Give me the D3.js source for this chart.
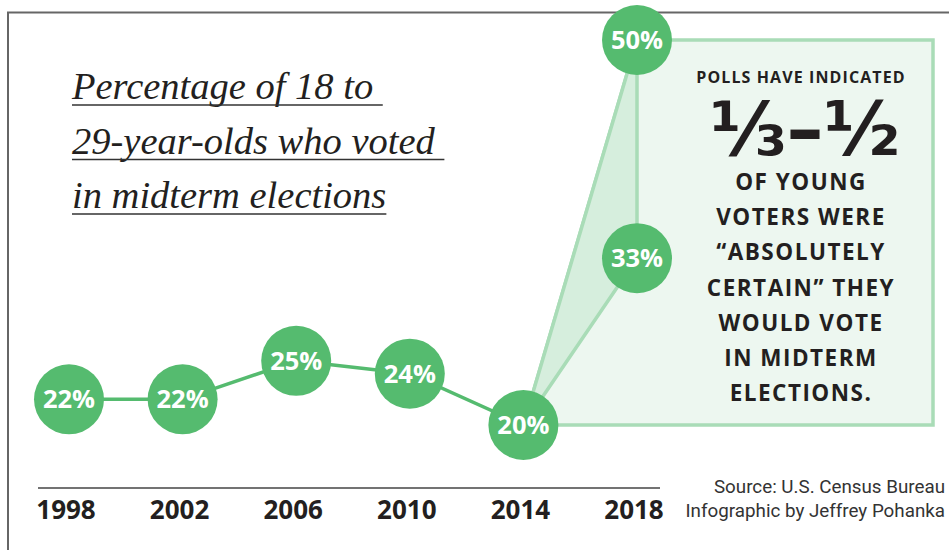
<!DOCTYPE html>
<html>
<head>
<meta charset="utf-8">
<script src="https://cdnjs.cloudflare.com/ajax/libs/d3/7.8.5/d3.min.js"></script>
<style>
  body { margin: 0; background: #fff; }
</style>
</head>
<body>
<script>
var years = [1998, 2002, 2006, 2010, 2014];
var turnout = [22, 22, 25, 24, 20];
var pollYear = 2018;
var pollRange = [33, 50];
var yearTicks = [1998, 2002, 2006, 2010, 2014, 2018];
var titleLines = ["Percentage of 18 to ", "29-year-olds who voted ", "in midterm elections"];
var noteLines = ["OF YOUNG", "VOTERS WERE", "\u201CABSOLUTELY", "CERTAIN\u201D THEY", "WOULD VOTE", "IN MIDTERM", "ELECTIONS."];
var sourceLines = ["Source: U.S. Census Bureau", "Infographic by Jeffrey Pohanka"];

var W = 949, H = 550;
var green = "#55bb6f", pale = "#a9dcb7", dark = "#231f20";
var sans = "'Open Sans', sans-serif";

var svg = d3.select("body").append("svg")
    .attr("width", W)
    .attr("height", H);

var x = d3.scaleLinear().domain([1998, 2018]).range([69, 637]);
var y = d3.scaleLinear().domain([20, 50]).range([425, 40]);

// frame (only top and left edges are in view)
svg.append("path")
    .attr("d", "M8," + H + "V12.5H" + W)
    .attr("fill", "none")
    .attr("stroke", "#666")
    .attr("stroke-width", 2);

// title, underlined
var title = svg.append("g");
titleLines.forEach(function(t, i) {
    var base = 99 + i * 54.5;
    var tx = title.append("text")
        .attr("x", 72)
        .attr("y", base)
        .attr("font-family", "'Liberation Serif', serif")
        .attr("font-style", "italic")
        .attr("font-size", 38.5)
        .attr("fill", dark)
        .style("white-space", "pre")
        .text(t);
    var w = tx.node().getComputedTextLength();
    title.append("line")
        .attr("x1", 72).attr("x2", 72 + w)
        .attr("y1", base + 6).attr("y2", base + 6)
        .attr("stroke", "#333")
        .attr("stroke-width", 1.5);
});

// callout box and wedge
var last = years.length - 1;
var p0 = [x(years[last]), y(turnout[last])];
var pHi = [x(pollYear), y(pollRange[1])];
var pLo = [x(pollYear), y(pollRange[0])];
var boxRight = 933;

svg.append("path")
    .attr("d", "M" + p0 + "L" + pHi + "H" + boxRight + "V" + p0[1] + "Z")
    .attr("fill", "#edf7f0")
    .attr("stroke", pale)
    .attr("stroke-width", 3.5)
    .attr("stroke-linejoin", "miter");

svg.append("path")
    .attr("d", "M" + p0 + "L" + pHi + "L" + pLo + "Z")
    .attr("fill", "#d6eedd")
    .attr("stroke", pale)
    .attr("stroke-width", 3.5);

// box text
var cx = 801;
svg.append("text")
    .attr("x", cx).attr("y", 83)
    .attr("text-anchor", "middle")
    .attr("font-family", sans)
    .attr("font-weight", 700)
    .attr("font-size", 16)
    .attr("letter-spacing", 1.1)
    .attr("fill", dark)
    .text("POLLS HAVE INDICATED");

svg.append("text")
    .attr("x", 805).attr("y", 155)
    .attr("text-anchor", "middle")
    .attr("font-family", "'DejaVu Sans', sans-serif")
    .attr("font-weight", 700)
    .attr("font-size", 74)
    .attr("fill", dark)
    .text("\u2153\u2013\u00BD");

svg.append("g").selectAll("text")
    .data(noteLines)
    .join("text")
    .attr("x", cx)
    .attr("y", function(d, i) { return 190 + i * 35.2; })
    .attr("text-anchor", "middle")
    .attr("font-family", sans)
    .attr("font-weight", 700)
    .attr("font-size", 22.5)
    .attr("letter-spacing", 1.5)
    .attr("fill", dark)
    .text(function(d) { return d; });

// trend line
var pts = years.map(function(yr, i) { return [x(yr), y(turnout[i])]; });
svg.append("path")
    .attr("d", d3.line()(pts))
    .attr("fill", "none")
    .attr("stroke", green)
    .attr("stroke-width", 3.5);

// dots
var dots = pts.map(function(p, i) { return { p: p, v: turnout[i] }; });
dots.push({ p: pHi, v: pollRange[1] });
dots.push({ p: pLo, v: pollRange[0] });

var g = svg.append("g").selectAll("g")
    .data(dots)
    .join("g")
    .attr("transform", function(d) { return "translate(" + d.p + ")"; });
g.append("circle").attr("r", 35).attr("fill", green);
g.append("text")
    .attr("y", 9)
    .attr("text-anchor", "middle")
    .attr("font-family", sans)
    .attr("font-weight", 700)
    .attr("font-size", 25.5)
    .attr("fill", "#fff")
    .text(function(d) { return d.v + "%"; });

// x axis
var axis = svg.append("g").attr("transform", "translate(0,488)");
axis.append("line")
    .attr("x1", 38).attr("x2", 660)
    .attr("stroke", "#444")
    .attr("stroke-width", 1.5);
axis.selectAll("text")
    .data(yearTicks)
    .join("text")
    .attr("x", function(d) { return x(d) - 3; })
    .attr("y", 31)
    .attr("text-anchor", "middle")
    .attr("font-family", sans)
    .attr("font-weight", 700)
    .attr("font-size", 26)
    .attr("fill", dark)
    .text(function(d) { return d; });

// source
svg.append("g").selectAll("text")
    .data(sourceLines)
    .join("text")
    .attr("x", 945)
    .attr("y", function(d, i) { return 493 + i * 24; })
    .attr("text-anchor", "end")
    .attr("font-family", "Roboto, sans-serif")
    .attr("font-size", 18.8)
    .attr("fill", "#333")
    .text(function(d) { return d; });
</script>
</body>
</html>
